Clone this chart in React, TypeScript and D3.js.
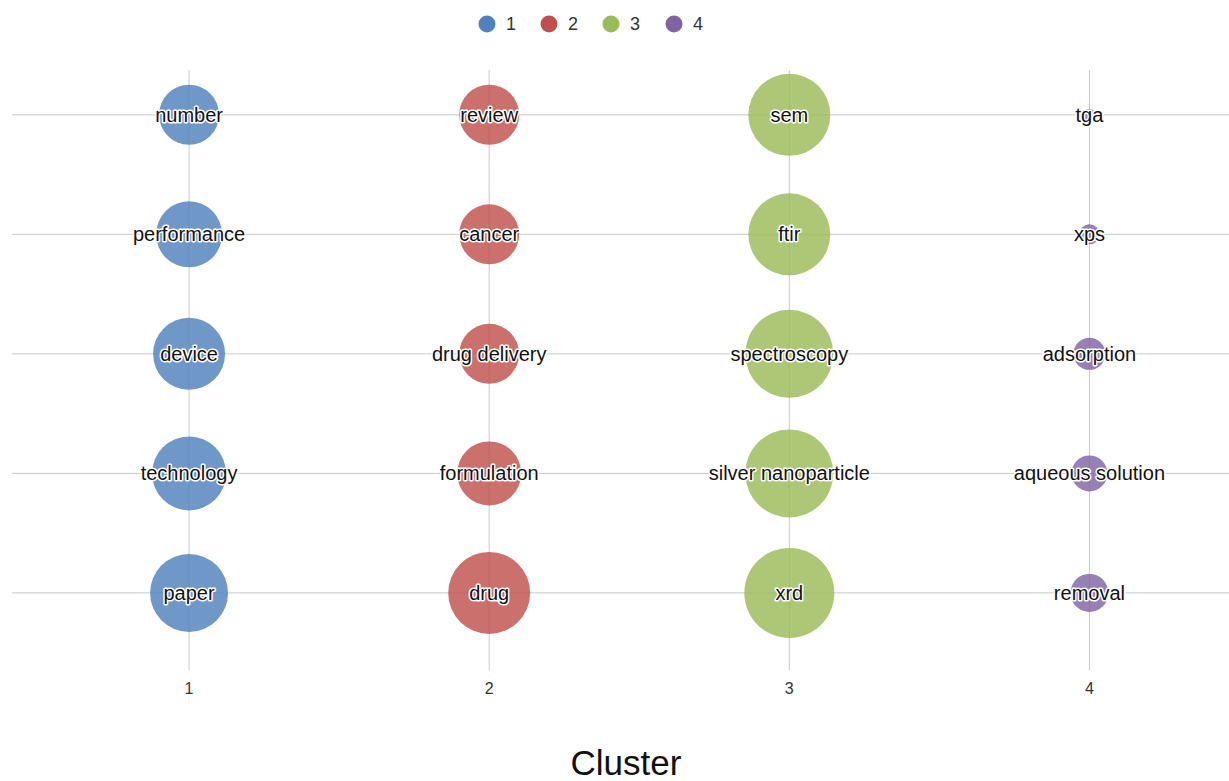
import React from "react";
import * as d3 from "d3";

const clusters = ["1", "2", "3", "4"];
const clusterColors = ["#4f81bd", "#c0504d", "#9bbb59", "#8064a2"];
// terms per cluster, from rank 1 (bottom) to rank 5 (top)
const cluster1Terms = ["paper", "technology", "device", "performance", "number"];
const cluster1Sizes = [39, 37, 36, 33, 30];
const cluster2Terms = ["drug", "formulation", "drug delivery", "cancer", "review"];
const cluster2Sizes = [41, 32, 30, 30, 30];
const cluster3Terms = ["xrd", "silver nanoparticle", "spectroscopy", "ftir", "sem"];
const cluster3Sizes = [45, 44, 44, 41, 41];
const cluster4Terms = ["removal", "aqueous solution", "adsorption", "xps", "tga"];
const cluster4Sizes = [19, 18, 16, 10, 6];
const ranks = [1, 2, 3, 4, 5];

const W = 1229;
const H = 781;

export default function App() {
  const x = d3.scaleLinear().domain([0.41, 4.465]).range([12, 1229]);
  const y = d3.scaleLinear().domain([0.355, 5.375]).range([670, 70]);
  const r = d3.scaleLinear().domain([0, 45]).range([0, 45]);

  const allTerms = [cluster1Terms, cluster2Terms, cluster3Terms, cluster4Terms];
  const allSizes = [cluster1Sizes, cluster2Sizes, cluster3Sizes, cluster4Sizes];

  const points = clusters.flatMap((c, ci) =>
    allTerms[ci].map((t, i) => ({
      cluster: ci + 1,
      rank: ranks[i],
      term: t,
      size: allSizes[ci][i],
      color: clusterColors[ci],
    }))
  );

  const font = "Arial, 'Liberation Sans', sans-serif";
  const legendX = [487, 549, 611, 674];

  return (
    <svg
      width={W}
      height={H}
      style={{ position: "absolute", left: 0, top: 0, background: "#fff" }}
      fontFamily={font}
    >
      {/* grid */}
      <g>
        {ranks.map((rk) => (
          <line key={"h" + rk} x1={12} x2={1229} y1={y(rk)} y2={y(rk)} stroke="#c8c8c8" strokeWidth={1} />
        ))}
        {clusters.map((c, i) => (
          <line key={"v" + c} x1={x(i + 1)} x2={x(i + 1)} y1={y(5.375)} y2={y(0.355)} stroke="#c8c8c8" strokeWidth={1} />
        ))}
      </g>
      {/* bubbles */}
      <g>
        {points.map((p) => (
          <circle
            key={p.term}
            cx={x(p.cluster)}
            cy={y(p.rank)}
            r={r(p.size)}
            fill={p.color}
            fillOpacity={0.82}
          />
        ))}
      </g>
      {/* labels */}
      <g>
        {points.map((p) => (
          <text
            key={"t" + p.term}
            x={x(p.cluster)}
            y={y(p.rank)}
            dy="0.35em"
            textAnchor="middle"
            fontSize={20}
            fill="#111"
            stroke="#fff"
            strokeWidth={3}
            strokeLinejoin="round"
            paintOrder="stroke"
          >
            {p.term}
          </text>
        ))}
      </g>
      {/* x axis ticks */}
      <g>
        {clusters.map((c, i) => (
          <text key={"xt" + c} x={x(i + 1)} y={688} dy="0.35em" textAnchor="middle" fontSize={16} fill="#333">
            {c}
          </text>
        ))}
        <text x={626} y={763} dy="0.35em" textAnchor="middle" fontSize={35} fill="#111">
          Cluster
        </text>
      </g>
      {/* legend */}
      <g>
        {clusters.map((c, i) => (
          <g key={"lg" + c}>
            <circle cx={legendX[i]} cy={24} r={8.5} fill={clusterColors[i]} />
            <text x={legendX[i] + 19} y={24} dy="0.35em" fontSize={18} fill="#333">
              {c}
            </text>
          </g>
        ))}
      </g>
    </svg>
  );
}
